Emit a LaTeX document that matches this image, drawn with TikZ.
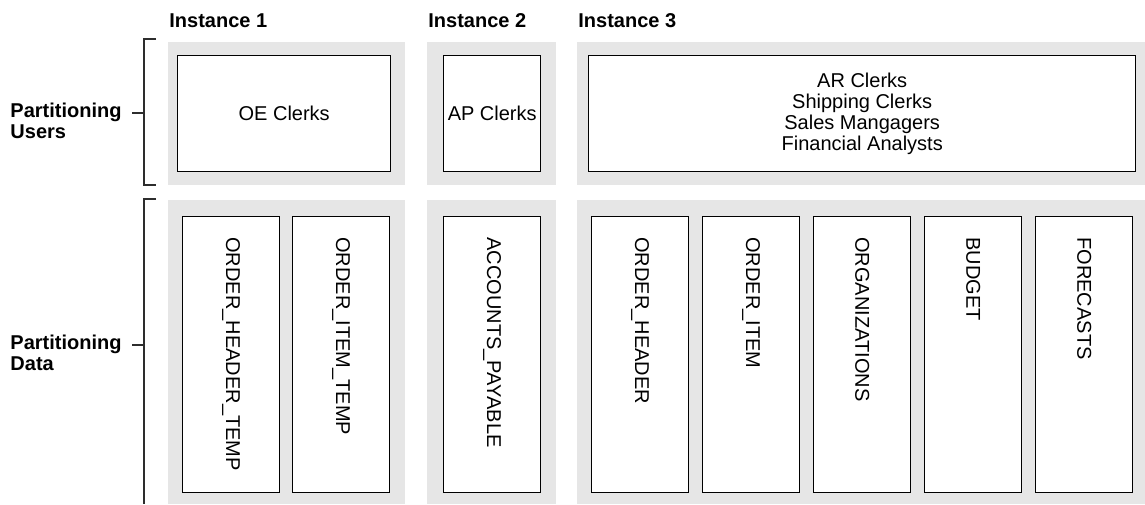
\documentclass[tikz,border=0pt]{standalone}
\usepackage{fontspec}
\setmainfont{Liberation Sans}
\definecolor{panelgray}{RGB}{230,230,230}
\definecolor{bracketgray}{RGB}{45,45,45}

\begin{document}
\begin{tikzpicture}[x=0.5pt,y=-0.5pt,
    panel/.style = {fill=panelgray, inner sep=0, anchor=north west},
    heading/.style = {font=\bfseries, inner sep=0, anchor=base west},
    userbox/.style = {draw, line width=0.7pt, fill=white, inner sep=0, anchor=north west,
                      minimum height=58pt, align=center, font=\fontsize{10}{10.6}\selectfont},
    tblbox/.style = {draw, line width=0.7pt, fill=white, inner sep=0, anchor=north west,
                     minimum width=48.5pt, minimum height=138pt},
    tbllabel/.style = {rotate=-90, anchor=west, inner sep=0},
    side/.style = {font=\bfseries\fontsize{10}{10.3}\selectfont, align=left, inner sep=0, anchor=north east},
    bracket/.style = {draw=bracketgray, line width=0.6pt}
  ]
  \useasboundingbox (0,0) rectangle (1145,504);

  \foreach \x/\w/\n in {168/118.5/1, 427/64.5/2, 577/284/3}{ % one column per instance
      \node[heading] (h\n) at (\x+1,27) {Instance \n};
      \node[panel, minimum width=\w pt, minimum height=71.5pt] (pu\n) at (\x,42) {};
      \node[panel, minimum width=\w pt, minimum height=152pt] (pd\n) at (\x,200) {};
    }

  % users
  \node[userbox, minimum width=106.5pt] (oe) at (177,55) {OE Clerks};
  \node[userbox, minimum width=48.5pt] (ap) at (443,55) {AP Clerks};
  \node[userbox, minimum width=273.5pt] (ar) at (588,55)
    {AR Clerks\\Shipping Clerks\\Sales Mangagers\\Financial Analysts};

  % tables
  \foreach \x/\name [count=\i] in {182/ORDER\_HEADER\_TEMP, 292/ORDER\_ITEM\_TEMP,
      443/ACCOUNTS\_PAYABLE, 591/ORDER\_HEADER, 702/ORDER\_ITEM,
      813/ORGANIZATIONS, 924/BUDGET, 1035/FORECASTS}{
      \node[tblbox] (t\i) at (\x,216) {};
      \node[tbllabel] (t\i-label) at ([yshift=-10.5pt]t\i.north) {\name};
    }

  % side labels and brackets
  \node[side] (users) at (122,103) {Partitioning\\Users};
  \node[side] (data) at (122,335) {Partitioning\\Data};
  \coordinate (ub-top) at (156,39);
  \coordinate (ub-bot) at (156,185);
  \coordinate (ub-mid) at (144,113);
  \coordinate (db-top) at (156,199);
  \coordinate (db-bot) at (144,504);
  \coordinate (db-mid) at (144,345);
  \draw[bracket] (ub-top) -| (ub-mid) |- (ub-bot);
  \draw[bracket] ([xshift=5pt]users.east |- ub-mid) -- (ub-mid);
  \draw[bracket] (db-top) -| (db-bot);
  \draw[bracket] ([xshift=5pt]data.east |- db-mid) -- (db-mid);

\end{tikzpicture}
\end{document}
